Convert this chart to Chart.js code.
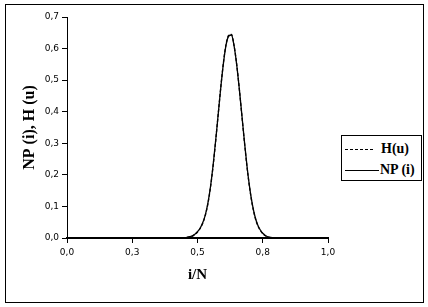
<!DOCTYPE html>
<html>
<head>
<meta charset="utf-8">
<script src="https://cdn.jsdelivr.net/npm/chart.js@4.4.0/dist/chart.umd.min.js"></script>
<style>
  html, body { margin: 0; padding: 0; background: #fff; }
  #wrap { position: relative; width: 428px; height: 307px; overflow: hidden; }
  #c { position: absolute; left: 0; top: 0; }
  #frame { position: absolute; left: 5px; top: 4px; width: 419px; height: 299px; box-sizing: border-box; border: 1px solid #000; pointer-events: none; }
  #legend { position: absolute; left: 341px; top: 135px; width: 81px; height: 46px; box-sizing: border-box; border: 1px solid #000; background: #fff; font-family: "Liberation Serif", "Times New Roman", serif; font-weight: bold; font-size: 14px; color: #000; }
  .row { position: absolute; left: 0; height: 16px; width: 79px; }
  .row svg { position: absolute; left: 3px; top: 0; }
  .row span { position: absolute; top: 0; line-height: 16px; white-space: nowrap; }
</style>
</head>
<body>
<div id="wrap">
  <canvas id="c" width="428" height="307"></canvas>
  <div id="frame"></div>
  <div id="legend"></div>
</div>
<script>
// ---- data ----
const xValues = [0, 0.1, 0.2, 0.3, 0.4, 0.45,
  0.46, 0.47, 0.48, 0.49, 0.50, 0.51, 0.52, 0.53, 0.54, 0.55,
  0.56, 0.57, 0.58, 0.59, 0.60, 0.61, 0.62, 0.63, 0.64, 0.65,
  0.66, 0.67, 0.68, 0.69, 0.70, 0.71, 0.72, 0.73, 0.74, 0.75,
  0.76, 0.77, 0.78, 0.79, 0.80, 0.85, 0.9, 1.0];
const hValues = [0, 0, 0, 0, 0, 0,
  0.002, 0.003, 0.006, 0.011, 0.019, 0.030, 0.047, 0.072, 0.109, 0.162,
  0.230, 0.311, 0.398, 0.484, 0.560, 0.616, 0.643, 0.645, 0.610, 0.551,
  0.474, 0.388, 0.302, 0.223, 0.157, 0.105, 0.067, 0.041, 0.025, 0.014,
  0.007, 0.003, 0.001, 0.000, 0.000, 0, 0, 0];
const npValues = [0, 0, 0, 0, 0, 0,
  0.002, 0.004, 0.007, 0.012, 0.020, 0.031, 0.048, 0.073, 0.111, 0.164,
  0.232, 0.312, 0.398, 0.483, 0.558, 0.614, 0.640, 0.643, 0.609, 0.550,
  0.474, 0.389, 0.304, 0.225, 0.159, 0.107, 0.069, 0.043, 0.026, 0.015,
  0.008, 0.004, 0.002, 0.001, 0.000, 0, 0, 0];
const seriesNames = ["H(u)", "NP (i)"];
const xTitle = "i/N";
const yTitle = "NP (i), H (u)";
const xTicks = [0, 0.25, 0.5, 0.75, 1.0];
const yTicks = [0, 0.1, 0.2, 0.3, 0.4, 0.5, 0.6, 0.7];

const fmt = v => Number(v).toFixed(1).replace('.', ',');
const pts = arr => xValues.map((x, i) => ({ x: x, y: arr[i] }));

const tickFont = { family: "DejaVu Sans", size: 9 };
const xTitleFont = { family: "Liberation Serif", size: 15, weight: "bold" };
const yTitleFont = { family: "Liberation Serif", size: 16, weight: "bold" };

new Chart(document.getElementById('c'), {
  type: 'line',
  data: {
    datasets: [
      { label: seriesNames[0], data: pts(hValues), borderColor: '#000', borderWidth: 1.3,
        borderDash: [3, 2], pointRadius: 0, fill: false, cubicInterpolationMode: 'monotone' },
      { label: seriesNames[1], data: pts(npValues), borderColor: '#000', borderWidth: 1.3,
        pointRadius: 0, fill: false, cubicInterpolationMode: 'monotone' }
    ]
  },
  options: {
    responsive: false,
    animation: false,
    events: [],
    layout: { padding: { left: 0, top: 17, right: 100, bottom: 0 } },
    plugins: { legend: { display: false }, tooltip: { enabled: false } },
    scales: {
      x: {
        type: 'linear', min: 0, max: 1,
        afterBuildTicks: s => { s.ticks = xTicks.map(v => ({ value: v })); },
        afterFit: s => { s.height = 69; },
        border: { color: '#000', width: 2 },
        grid: { drawOnChartArea: false, drawTicks: true, tickLength: 5, color: '#000', lineWidth: 1 },
        ticks: { color: '#000', font: tickFont, padding: 4, maxRotation: 0, callback: v => fmt(v) },
        title: { display: true, text: xTitle, color: '#000', font: xTitleFont, padding: { top: 0, bottom: 23 } }
      },
      y: {
        type: 'linear', min: 0, max: 0.7,
        afterBuildTicks: s => { s.ticks = yTicks.map(v => ({ value: v })); },
        afterFit: s => { s.width = 67; },
        border: { color: '#000', width: 1 },
        grid: { drawOnChartArea: false, drawTicks: true, tickLength: 5, color: '#000' },
        ticks: { color: '#000', font: tickFont, padding: 3, callback: v => fmt(v) },
        title: { display: true, text: yTitle, color: '#000', font: yTitleFont, padding: { top: 20, bottom: 0 } }
      }
    }
  }
});

// legend (HTML, real text)
const legend = document.getElementById('legend');
const rows = [
  { name: seriesNames[0], dash: '3,2', x2: 30, textLeft: 39, top: 5 },
  { name: seriesNames[1], dash: '', x2: 34, textLeft: 38, top: 26 }
];
rows.forEach(r => {
  const d = document.createElement('div');
  d.className = 'row';
  d.style.top = r.top + 'px';
  d.innerHTML = '<svg width="36" height="16"><line x1="0" y1="8.5" x2="' + r.x2 + '" y2="8.5" stroke="#000" stroke-width="1"' +
    (r.dash ? ' stroke-dasharray="' + r.dash + '"' : '') + '/></svg><span style="left:' + r.textLeft + 'px">' + r.name + '</span>';
  legend.appendChild(d);
});
</script>
</body>
</html>
